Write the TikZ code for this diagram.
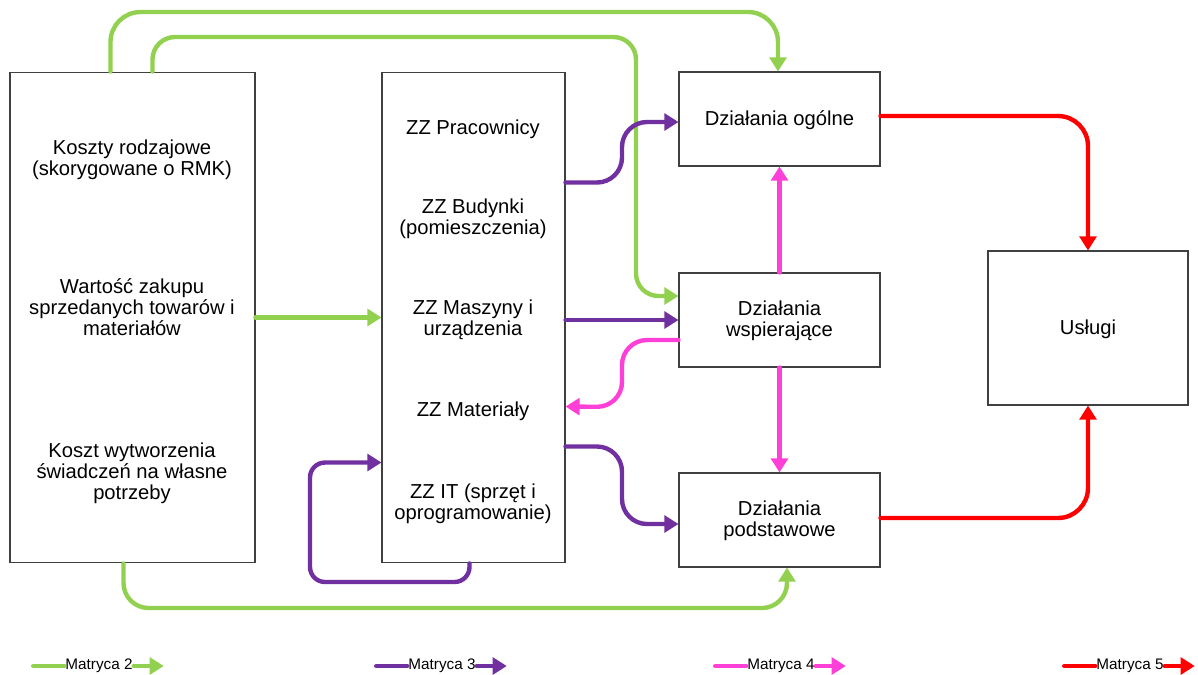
\documentclass[tikz,border=0pt]{standalone}
\usepackage{fontspec}
\setmainfont{Liberation Sans}
\usetikzlibrary{arrows.meta,calc}
\definecolor{mgreen}{HTML}{92D050}
\definecolor{mpurple}{HTML}{7030A0}
\definecolor{mpink}{HTML}{FF40D8}
\definecolor{mred}{HTML}{FF0000}
\tikzset{
  box/.style={draw=black!75, line width=0.6pt, inner sep=0pt},
  txt/.style={align=center, font=\fontsize{11.5}{12}\selectfont, inner sep=1pt},
  leg/.style={font=\fontsize{8.7}{10}\selectfont, inner sep=0.5pt},
  conn/.style={line width=2.5pt, line cap=round, -{Triangle[length=8pt,width=9.5pt]}},
  m2/.style={conn, draw=mgreen},
  m3/.style={conn, draw=mpurple},
  m4/.style={conn, draw=mpink},
  m5/.style={conn, draw=mred},
}
\begin{document}
\begin{tikzpicture}[x=0.02cm, y=-0.02cm]
  \useasboundingbox (0,0) rectangle (1198,674);
  % boxes
  \node[box, minimum width=4.9cm, minimum height=9.82cm] (kr) at (132.5,317.5) {};
  \node[box, minimum width=3.66cm, minimum height=9.82cm] (zz) at (473.5,317.5) {};
  \node[box, minimum width=4.02cm, minimum height=1.88cm] (og) at (779.5,119) {};
  \node[box, minimum width=4.02cm, minimum height=1.88cm] (ws) at (779.5,320) {};
  \node[box, minimum width=4.02cm, minimum height=1.88cm] (pd) at (779.5,520) {};
  \node[box, minimum width=4cm, minimum height=3.08cm] (us) at (1088,328) {};
  % texts
  \node[txt] (kr1) at (132,160) {Koszty rodzajowe\\(skorygowane o RMK)};
  \node[txt] (kr2) at (132,307) {Wartość zakupu\\sprzedanych towarów i\\materiałów};
  \node[txt] (kr3) at (132,473) {Koszt wytworzenia\\świadczeń na własne\\potrzeby};
  \node[txt] (zz1) at (473,129) {ZZ Pracownicy};
  \node[txt] (zz2) at (473,219) {ZZ Budynki\\(pomieszczenia)};
  \node[txt] (zz3) at (473,320) {ZZ Maszyny i\\urządzenia};
  \node[txt] (zz4) at (473,411) {ZZ Materiały};
  \node[txt] (zz5) at (473,504) {ZZ IT (sprzęt i\\oprogramowanie)};
  \node[txt] at ($(og.center)+(0,1)$) {Działania ogólne};
  \node[txt] at ($(ws.center)+(0,1)$) {Działania\\wspierające};
  \node[txt] at ($(pd.center)+(0,1)$) {Działania\\podstawowe};
  \node[txt] at ($(us.center)+(0,1)$) {Usługi};
  % Matryca 2
  \draw[m2, rounded corners=0.6cm] ($(kr.north west)+(101,0)$) |- (778,12) -- (og.north -| 778,0);
  \draw[m2, rounded corners=0.45cm] ($(kr.north west)+(143,0)$) |- (636,37) |- ($(ws.west)+(0,-24)$);
  \draw[m2] (kr.east) -- (zz.west);
  \draw[m2, rounded corners=0.5cm] ($(kr.south west)+(114,0)$) |- (787,608) -- ($(pd.south)+(7.5,0)$);
  % Matryca 3
  \draw[m3, rounded corners=0.5cm] ($(zz.north east)+(0,111)$) -| (622,122) -- ($(og.west)+(0,3)$);
  \draw[m3] (zz.east |- ws.west) -- (ws.west);
  \draw[m3, rounded corners=0.5cm] ($(zz.north east)+(0,375)$) -| (622,524) -- ($(pd.west)+(0,4)$);
  \draw[m3, rounded corners=0.3cm] ($(zz.south west)+(88,0)$) |- (310,582) |- ($(zz.north west)+(0,391)$);
  % Matryca 4
  \draw[m4] (ws.north) -- (og.south);
  \draw[m4] (ws.south) -- (pd.north);
  \draw[m4, rounded corners=0.5cm] ($(ws.west)+(0,20)$) -| (622,407) -- ($(zz.north east)+(0,335)$);
  % Matryca 5
  \draw[m5, rounded corners=0.6cm] ($(og.east)+(0,-3)$) -| (us.north);
  \draw[m5, rounded corners=0.6cm] ($(pd.east)+(0,-2)$) -| (us.south);
  % legend
  \node[leg] (l2) at (99,666) {Matryca 2};
  \node[leg] (l3) at (442,666) {Matryca 3};
  \node[leg] (l4) at (781,666) {Matryca 4};
  \node[leg] (l5) at (1130,666) {Matryca 5};
  \foreach \l/\s in {l2/m2, l3/m3, l4/m4, l5/m5} {
    \draw[\s, -] ($(\l.west)+(-31,0)$) -- (\l.west);
    \draw[\s] (\l.east) -- ++(30,0);
  }
\end{tikzpicture}
\end{document}
